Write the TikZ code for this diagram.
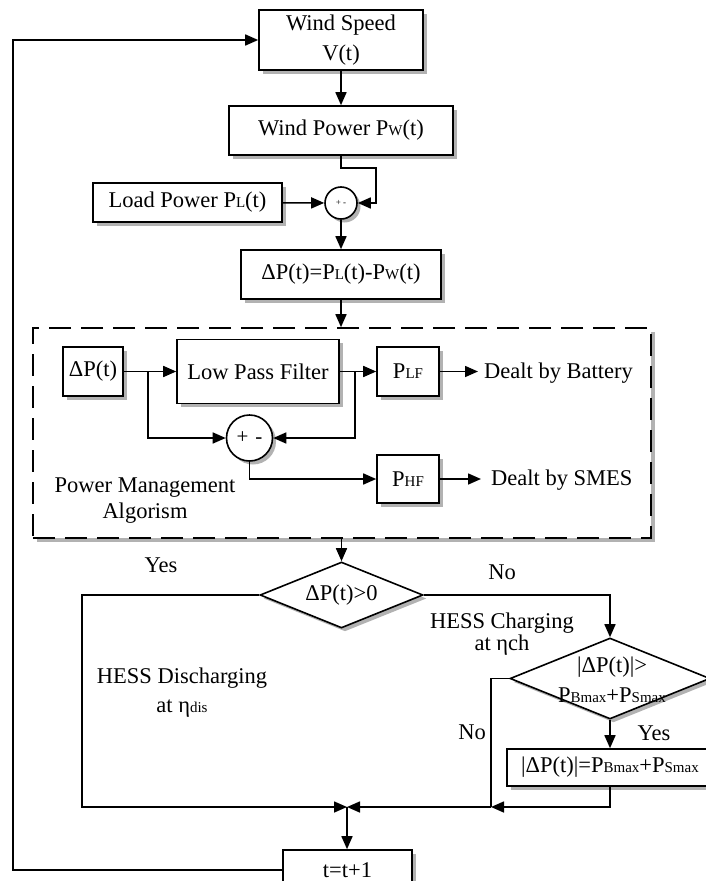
\documentclass[tikz,border=0pt]{standalone}
\usepackage{fontspec}
\setmainfont{Liberation Serif}
\usetikzlibrary{shapes.geometric,arrows.meta,shadows}
\newcommand\sbs[1]{{\fontsize{15}{15}\selectfont #1}}
\begin{document}
\begin{tikzpicture}[x=1pt,y=-1pt,
  every node/.style={font=\fontsize{22.5}{29}\selectfont, inner sep=0pt},
  shad/.style={drop shadow={shadow xshift=3.5pt,shadow yshift=-3.5pt,fill=black!30,opacity=1}},
  blk/.style={draw, fill=white, line width=1.6pt, shad, align=center},
  sumc/.style={circle, draw, fill=white, line width=1.6pt, shad},
  dia/.style={diamond, draw, fill=white, line width=1.6pt, shad},
  arr/.style={line width=1.6pt, -{Triangle[length=13pt,width=11pt]}},
  lin/.style={line width=1.6pt},
  txt/.style={align=center}
]
\useasboundingbox (0,0) rectangle (705,881);

% top chain
\node[blk, minimum width=164pt, minimum height=60pt, font=\fontsize{22.5}{30}\selectfont] (ws) at (341,40) {Wind Speed\\V(t)};
\node[blk, minimum width=224pt, minimum height=49pt] (wp) at (341,130.5) {Wind Power P\sbs{W}(t)};
\node[blk, minimum width=189pt, minimum height=39pt] (lp) at (187.5,202.5) {Load Power P\sbs{L}(t)};
\node[sumc, minimum size=32pt, font=\fontsize{9}{9}\selectfont] (s1) at (341,203) {+ -};
\node[blk, minimum width=200pt, minimum height=49pt] (dp) at (341,274.5) {ΔP(t)=P\sbs{L}(t)-P\sbs{W}(t)};

% power management block
\node[draw, fill=white, dash pattern=on 22pt off 10pt, line width=1.6pt, shad,
      minimum width=618pt, minimum height=210pt] (pm) at (342,433) {};
\node[blk, minimum width=60pt, minimum height=49pt] (dpi) at (93,371.5) {ΔP(t)};
\node[blk, minimum width=162pt, minimum height=64pt] (lpf) at (258,371.5) {Low Pass Filter};
\node[blk, minimum width=62pt, minimum height=49pt] (plf) at (408,371.5) {P\sbs{LF}};
\node[sumc, minimum size=46pt, font=\fontsize{21}{21}\selectfont] (s2) at (249.5,438) {+\hspace{7pt}-};
\node[blk, minimum width=62pt, minimum height=48pt] (phf) at (408,479) {P\sbs{HF}};
\node[anchor=west, inner xsep=6pt] (bat) at (478,373) {Dealt by Battery};
\node[anchor=west, inner xsep=10pt] (smes) at (481,480) {Dealt by SMES};
\node[txt, font=\fontsize{22.5}{26}\selectfont] (pma) at (145,501) {Power Management\\Algorism};

% decisions
\node[dia, minimum width=163pt, minimum height=66pt] (d1) at (341.5,595) {};
\node (d1t) at (d1) {ΔP(t)>0};
\node (y1) at (161,565) {Yes};
\node (n1) at (502,572) {No};
\node[txt, font=\fontsize{22.5}{22}\selectfont] (hc) at (502,634) {HESS Charging\\at ηch};
\node[txt, font=\fontsize{22.5}{29}\selectfont] (hd) at (182,693) {HESS Discharging\\at η\sbs{dis}};

\node[dia, minimum width=200pt, minimum height=81pt] (d2) at (610,678.5) {};
\node[txt, font=\fontsize{22.5}{30}\selectfont] (d2t) at (612,680) {|ΔP(t)|>\\P\sbs{Bmax}+P\sbs{Smax}};
\node (n2) at (472,732) {No};
\node (y2) at (654,733) {Yes};
\node[blk, minimum width=206pt, minimum height=37pt] (cl) at (610,767.5) {|ΔP(t)|=P\sbs{Bmax}+P\sbs{Smax}};

\node[blk, minimum width=129pt, minimum height=40pt] (tt) at (347.5,870) {t=t+1};

\coordinate (w1) at (376,168);
\coordinate (b1) at (148,371.5);
\coordinate (b2) at (355,371.5);
\coordinate (j) at (347,807);
\coordinate (c1) at (82,807);
\coordinate (c2) at (491,807);
\coordinate (c3) at (13,40);

% connectors
\draw[arr] (ws) -- (wp);
\draw[arr] (wp.south) |- (w1) |- (s1.east);
\draw[arr] (lp) -- (s1);
\draw[arr] (s1) -- (dp);
\draw[arr] (dp) -- (pm.north -| dp.south);
\draw[arr] (dpi.east) -- (lpf.west);
\draw[arr] (b1) |- (s2.west);
\draw[arr] (lpf.east) -- (plf.west);
\draw[arr] (b2) |- (s2.east);
\draw[arr] (s2.south) |- (phf.west);
\draw[arr] (plf.east) -- (plf.east -| bat.west);
\draw[arr] (phf.east) -- (phf.east -| smes.west);
\draw[arr] (pm.south -| d1.north) -- (d1.north);
\draw[arr] (d1.west) -| (c1) -- (j);
\draw[arr] (d1.east) -| (d2.north);
\draw[lin] (d2.west) -| (c2);
\draw[arr] (d2.south) -- (cl.north);
\draw[arr] (cl.south) |- (c2);
\draw[arr] (c2) -- (j);
\draw[arr] (j) -- (j |- tt.north);
\draw[arr] (tt.west) -| (c3) -- (ws.west);
\end{tikzpicture}
\end{document}
